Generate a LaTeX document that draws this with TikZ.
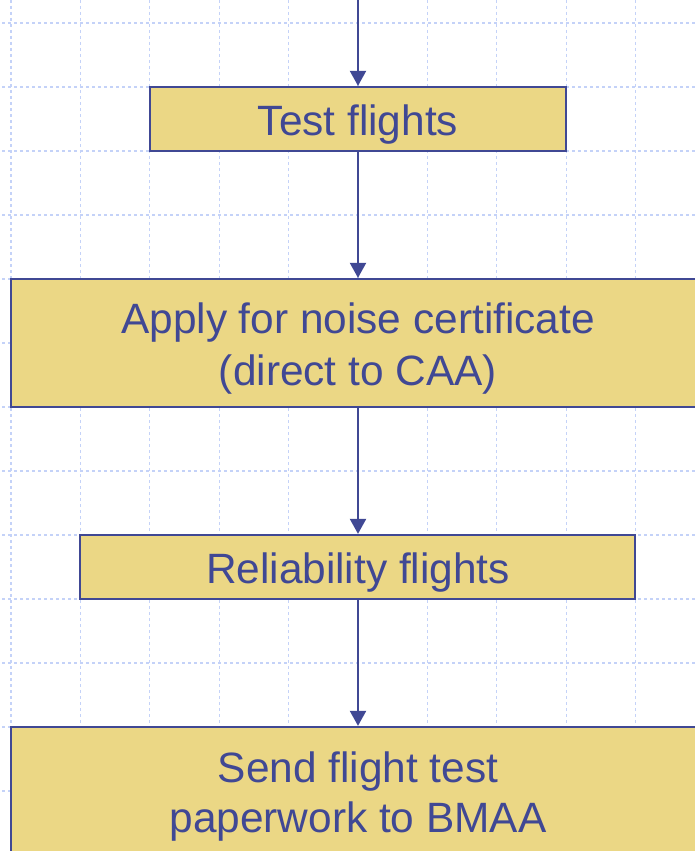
\documentclass[tikz,border=0pt]{standalone}
\usepackage{fontspec}
\setmainfont{Liberation Sans}
\usetikzlibrary{arrows.meta}
\definecolor{boxfill}{RGB}{235,215,133}
\definecolor{boxline}{RGB}{64,72,148}
\definecolor{gridblue}{RGB}{196,210,248}
\tikzset{
  gridline/.style={draw=gridblue, line width=1.3pt, dash pattern=on 3pt off 3pt},
  flowbox/.style={draw=boxline, fill=boxfill, line width=2.3pt, inner sep=0pt},
  flowtext/.style={text=boxline, font=\fontsize{42.4}{50}\selectfont, align=center, inner sep=0pt},
  flowarrow/.style={draw=boxline, line width=2.2pt, -{Triangle[width=16pt,length=15pt]}, shorten >=0pt}
}
\begin{document}
\begin{tikzpicture}[x=1pt,y=-1pt]
\useasboundingbox (0,0) rectangle (695,851);
\fill[white] (0,0) rectangle (695,851);
% grid
\foreach \k in {0,...,9} {
  \draw[gridline] ({11+69.4*\k},0) -- ({11+69.4*\k},851);
}
\foreach \k in {0,...,12} {
  \draw[gridline] (2,{23+64*\k}) -- (695,{23+64*\k});
}
% boxes
\node[flowbox, minimum width=416pt, minimum height=64pt] (b1) at (358,119) {};
\node[flowbox, minimum width=694pt, minimum height=128pt] (b2) at (358,343) {};
\node[flowbox, minimum width=555pt, minimum height=64pt] (b3) at (357.5,567) {};
\node[flowbox, minimum width=694pt, minimum height=160pt] (b4) at (358,807) {};
% texts
\node[flowtext, anchor=base] (t1) at (358,135) {Test flights};
\node[flowtext, anchor=base] (t2a) at (358,333) {Apply for noise certificate};
\node[flowtext, anchor=base] (t2b) at (358,385) {(direct to CAA)};
\node[flowtext, anchor=base] (t3) at (358,583) {Reliability flights};
\node[flowtext, anchor=base] (t4a) at (358,782) {Send flight test};
\node[flowtext, anchor=base] (t4b) at (358,832) {paperwork to BMAA};
% arrows
\coordinate (top) at (358,0);
\draw[flowarrow] (top) -- (b1.north);
\draw[flowarrow] (b1.south) -- (b2.north -| b1.south);
\draw[flowarrow] (b2.south -| b1.south) -- (b3.north -| b1.south);
\draw[flowarrow] (b3.south -| b1.south) -- (b4.north -| b1.south);
\end{tikzpicture}
\end{document}
